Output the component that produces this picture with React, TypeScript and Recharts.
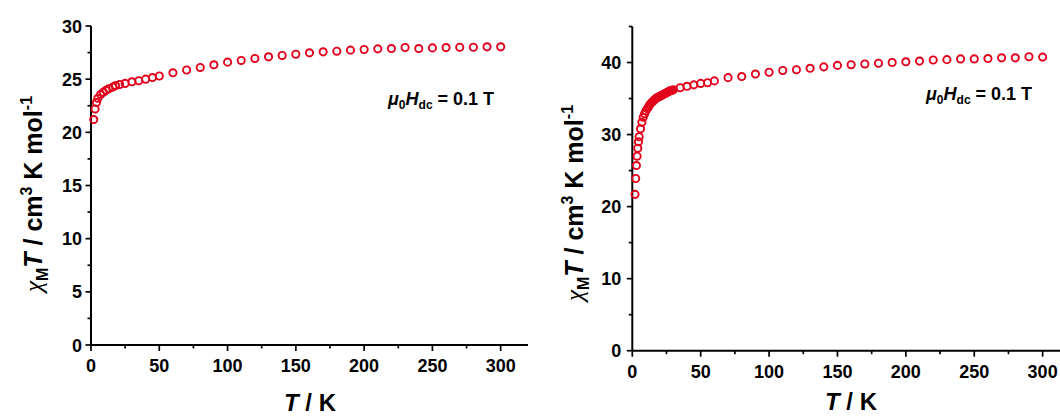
import { ScatterChart, Scatter, XAxis, YAxis } from 'recharts'

const RED = '#e3001b'
const FONT = '"Liberation Sans", Arial, sans-serif'

// left panel: chi_M T vs T
const tempA = [2, 3, 4, 5, 7, 9, 11, 13, 16, 18, 21, 25, 30, 35, 40, 45, 50, 60, 70, 80, 90, 100, 110, 120, 130, 140, 150, 160, 170, 180, 190, 200, 210, 220, 230, 240, 250, 260, 270, 280, 290, 300]
const chiTA = [21.2, 22.2, 22.8, 23.2, 23.55, 23.77, 23.95, 24.1, 24.25, 24.4, 24.5, 24.6, 24.75, 24.85, 25.0, 25.15, 25.3, 25.6, 25.86, 26.1, 26.35, 26.6, 26.76, 26.95, 27.1, 27.23, 27.35, 27.48, 27.57, 27.63, 27.73, 27.79, 27.85, 27.88, 27.98, 27.88, 27.94, 27.97, 28.0, 28.0, 28.04, 28.04]

// right panel
const tempB = [2, 2.5, 3, 3.5, 4, 4.5, 5, 6, 7, 8, 9, 10, 11, 12, 13, 14, 15, 16, 17, 18, 19, 20, 21, 22, 23, 24, 25, 26, 27, 28, 29, 30, 35, 40, 45, 50, 55, 60, 70, 80, 90, 100, 110, 120, 130, 140, 150, 160, 170, 180, 190, 200, 210, 220, 230, 240, 250, 260, 270, 280, 290, 300]
const chiTB = [21.7, 23.9, 25.7, 27.0, 28.1, 29.0, 29.7, 30.8, 31.7, 32.4, 32.9, 33.3, 33.6, 33.9, 34.2, 34.4, 34.6, 34.8, 34.95, 35.1, 35.2, 35.3, 35.4, 35.5, 35.6, 35.7, 35.8, 35.9, 36.0, 36.1, 36.15, 36.2, 36.5, 36.7, 36.9, 37.1, 37.2, 37.45, 37.9, 38.05, 38.4, 38.65, 38.9, 39.0, 39.2, 39.4, 39.6, 39.7, 39.8, 39.9, 40.0, 40.1, 40.2, 40.35, 40.4, 40.5, 40.5, 40.55, 40.65, 40.65, 40.8, 40.75]

const xTicks = [0, 25, 50, 75, 100, 125, 150, 175, 200, 225, 250, 275, 300]
const yTicksA = [0, 2.5, 5, 7.5, 10, 12.5, 15, 17.5, 20, 22.5, 25, 27.5, 30]
const yTicksB = [0, 5, 10, 15, 20, 25, 30, 35, 40, 45]

const dataA = tempA.map((T, i) => ({ T, chi: chiTA[i] }))
const dataB = tempB.map((T, i) => ({ T, chi: chiTB[i] }))

const XTick = (props: any) => {
  const { x, y, payload } = props
  const major = payload.value % 50 === 0
  return (
    <g>
      <line x1={x} x2={x} y1={y} y2={y + (major ? 6 : 3.5)} stroke="#000" strokeWidth={1.7} />
      {major && (
        <text x={x} y={y + 27} textAnchor="middle" fontFamily={FONT} fontWeight="bold" fontSize={18} fill="#000">
          {payload.value}
        </text>
      )}
    </g>
  )
}

const makeYTick = (majorStep: number, gap: number) => (props: any) => {
  const { x, y, payload } = props
  const major = payload.value % majorStep === 0
  return (
    <g>
      <line x1={x} x2={x - (major ? 5.5 : 3.5)} y1={y} y2={y} stroke="#000" strokeWidth={1.7} />
      {major && (
        <text x={x - gap} y={y + 6.5} textAnchor="end" fontFamily={FONT} fontWeight="bold" fontSize={18} fill="#000">
          {payload.value}
        </text>
      )}
    </g>
  )
}

const Dot = (p: any) => <circle cx={p.cx} cy={p.cy} r={3.6} fill="none" stroke={RED} strokeWidth={1.9} />

function YTitle({ x, y }: { x: number; y: number }) {
  return (
    <text transform={`translate(${x},${y}) rotate(-90)`} textAnchor="middle" fontFamily={FONT} fontWeight="bold" fontSize={25} fill="#000">
      <tspan fontFamily='"Liberation Serif", serif' fontStyle="italic" fontWeight="normal">χ</tspan>
      <tspan fontSize={16} dy={6}>M</tspan>
      <tspan fontStyle="italic" dy={-6}>T</tspan>
      <tspan> / cm</tspan>
      <tspan fontSize={16} dy={-10}>3</tspan>
      <tspan dy={10}> K mol</tspan>
      <tspan fontSize={16} dy={-10}>-1</tspan>
    </text>
  )
}

function XTitle({ x, y }: { x: number; y: number }) {
  return (
    <text x={x} y={y} textAnchor="middle" fontFamily={FONT} fontWeight="bold" fontSize={24} fill="#000">
      <tspan fontStyle="italic">T</tspan>
      <tspan> / K</tspan>
    </text>
  )
}

function FieldNote({ x, y }: { x: number; y: number }) {
  return (
    <text x={x} y={y} fontFamily={FONT} fontWeight="bold" fontSize={18} fill="#000">
      <tspan fontStyle="italic">μ</tspan>
      <tspan fontSize={12} dy={4}>0</tspan>
      <tspan fontStyle="italic" dy={-4}>H</tspan>
      <tspan fontSize={12} dy={4}>dc</tspan>
      <tspan dy={-4}> = 0.1 T</tspan>
    </text>
  )
}

function Panel({ data, yTicks, yMax, majorStep, gap, margin, yWidth, xHeight }: any) {
  return (
    <ScatterChart width={540} height={416} margin={margin}>
      <XAxis
        type="number"
        dataKey="T"
        domain={[0, 320]}
        ticks={xTicks}
        interval={0}
        tickSize={0}
        tickMargin={0}
        tickLine={false}
        tick={XTick}
        height={xHeight}
        axisLine={{ stroke: '#000', strokeWidth: 2 }}
      />
      <YAxis
        type="number"
        dataKey="chi"
        domain={[0, yMax]}
        ticks={yTicks}
        interval={0}
        tickSize={0}
        tickMargin={0}
        tickLine={false}
        tick={makeYTick(majorStep, gap)}
        width={yWidth}
        axisLine={{ stroke: '#000', strokeWidth: 2 }}
      />
      <Scatter data={data} shape={Dot} isAnimationActive={false} />
    </ScatterChart>
  )
}

export default function App() {
  return (
    <div style={{ position: 'absolute', left: 0, top: 0, width: 1060, height: 416, overflow: 'hidden', background: '#fff' }}>
      <div style={{ position: 'absolute', left: 0, top: 0 }}>
        <Panel data={dataA} yTicks={yTicksA} yMax={30} majorStep={5} gap={9}
          margin={{ top: 26, right: 12, bottom: 0, left: 0 }} yWidth={91} xHeight={71} />
      </div>
      <div style={{ position: 'absolute', left: 530, top: 0 }}>
        <Panel data={dataB} yTicks={yTicksB} yMax={45} majorStep={10} gap={11}
          margin={{ top: 26.5, right: 0, bottom: 0, left: 0 }} yWidth={102.3} xHeight={65.3} />
      </div>
      <svg width={1060} height={416} style={{ position: 'absolute', left: 0, top: 0, pointerEvents: 'none' }}>
        <YTitle x={42} y={194} />
        <YTitle x={583} y={203} />
        <XTitle x={310} y={411} />
        <XTitle x={851} y={410} />
        <FieldNote x={388} y={105} />
        <FieldNote x={926} y={100} />
      </svg>
    </div>
  )
}
